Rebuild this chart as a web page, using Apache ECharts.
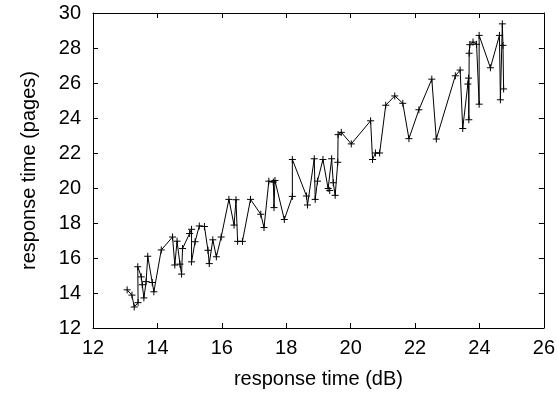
<!DOCTYPE html>
<html>
<head>
<meta charset="utf-8">
<script src="https://cdn.jsdelivr.net/npm/echarts@6/dist/echarts.min.js"></script>
<style>html,body{margin:0;padding:0;background:#fff}#c{width:558px;height:395px}</style>
</head>
<body>
<div id="c"></div>
<script>
const xValues = [13.06,13.21,13.28,13.40,13.39,13.50,13.53,13.58,13.65,13.70,13.84,13.89,14.12,14.47,14.54,14.61,14.70,14.75,14.78,15.00,15.06,15.06,15.17,15.30,15.46,15.57,15.61,15.72,15.83,15.98,16.22,16.38,16.44,16.49,16.64,16.89,17.21,17.31,17.46,17.60,17.62,17.65,17.94,18.19,18.19,18.63,18.66,18.87,18.90,18.97,19.14,19.30,19.35,19.41,19.46,19.52,19.60,19.61,19.71,20.02,20.62,20.68,20.77,20.90,21.09,21.37,21.62,21.81,22.12,22.52,22.66,23.25,23.40,23.48,23.64,23.66,23.67,23.68,23.70,23.80,23.91,23.99,23.99,24.34,24.62,24.65,24.71,24.73,24.75];
const yValues = [14.18,13.88,13.20,13.45,15.50,14.92,14.47,13.72,14.65,16.10,14.60,14.07,16.46,17.20,15.60,16.96,15.65,15.08,16.54,17.40,17.64,15.78,16.93,17.83,17.80,16.44,15.68,17.04,16.07,17.20,19.35,17.88,19.33,16.95,16.95,19.35,18.50,17.74,20.39,20.34,18.88,20.43,18.20,19.52,21.63,19.54,19.03,21.67,19.35,20.39,21.63,19.97,19.86,21.67,20.30,19.58,21.47,23.05,23.18,22.52,23.84,21.63,22.00,22.00,24.73,25.26,24.84,22.82,24.47,26.22,22.80,26.41,26.74,23.40,25.94,26.28,23.90,27.70,28.19,28.34,28.21,24.79,28.72,26.87,28.72,25.04,29.38,28.15,25.66];
const xTicks = {min: 12, max: 26, interval: 2};
const yTicks = {min: 12, max: 30, interval: 2};
const xTitle = 'response time (dB)';
const yTitle = 'response time (pages)';

const font = 'Liberation Sans, Arial, Helvetica, sans-serif';
const chart = echarts.init(document.getElementById('c'), null, {renderer: 'canvas'});
const pts = xValues.map((x, i) => [x, yValues[i]]);
const axisCommon = {
  type: 'value',
  axisLine: {show: true, onZero: false, lineStyle: {color: '#000', width: 1}},
  axisTick: {show: true, inside: true, length: 5, lineStyle: {color: '#000', width: 1}},
  splitLine: {show: false}
};
chart.setOption({
  animation: false,
  grid: {left: 93, right: 13, top: 13, bottom: 67, show: false},
  xAxis: [
    Object.assign({}, axisCommon, {position: 'bottom', min: xTicks.min, max: xTicks.max, interval: xTicks.interval,
      name: xTitle, nameLocation: 'middle', nameGap: 41,
      nameTextStyle: {color: '#000', fontSize: 20, fontFamily: font},
      axisLabel: {color: '#000', fontSize: 20, fontFamily: font, margin: 10}}),
    Object.assign({}, axisCommon, {position: 'top', min: xTicks.min, max: xTicks.max, interval: xTicks.interval,
      axisLabel: {show: false}})
  ],
  yAxis: [
    Object.assign({}, axisCommon, {position: 'left', min: yTicks.min, max: yTicks.max, interval: yTicks.interval,
      name: yTitle, nameLocation: 'middle', nameGap: 54,
      nameTextStyle: {color: '#000', fontSize: 20, fontFamily: font},
      axisLabel: {color: '#000', fontSize: 20, fontFamily: font, margin: 12}}),
    Object.assign({}, axisCommon, {position: 'right', min: yTicks.min, max: yTicks.max, interval: yTicks.interval,
      axisLabel: {show: false}})
  ],
  series: [{
    type: 'line',
    data: pts,
    xAxisIndex: 0, yAxisIndex: 0,
    lineStyle: {color: '#000', width: 1},
    symbol: 'path://M5,0L5,10M0,5L10,5',
    symbolSize: 7,
    showAllSymbol: true,
    itemStyle: {color: 'rgba(0,0,0,0)', borderColor: '#000', borderWidth: 1},
    emphasis: {disabled: true}
  }]
});
</script>
</body>
</html>
